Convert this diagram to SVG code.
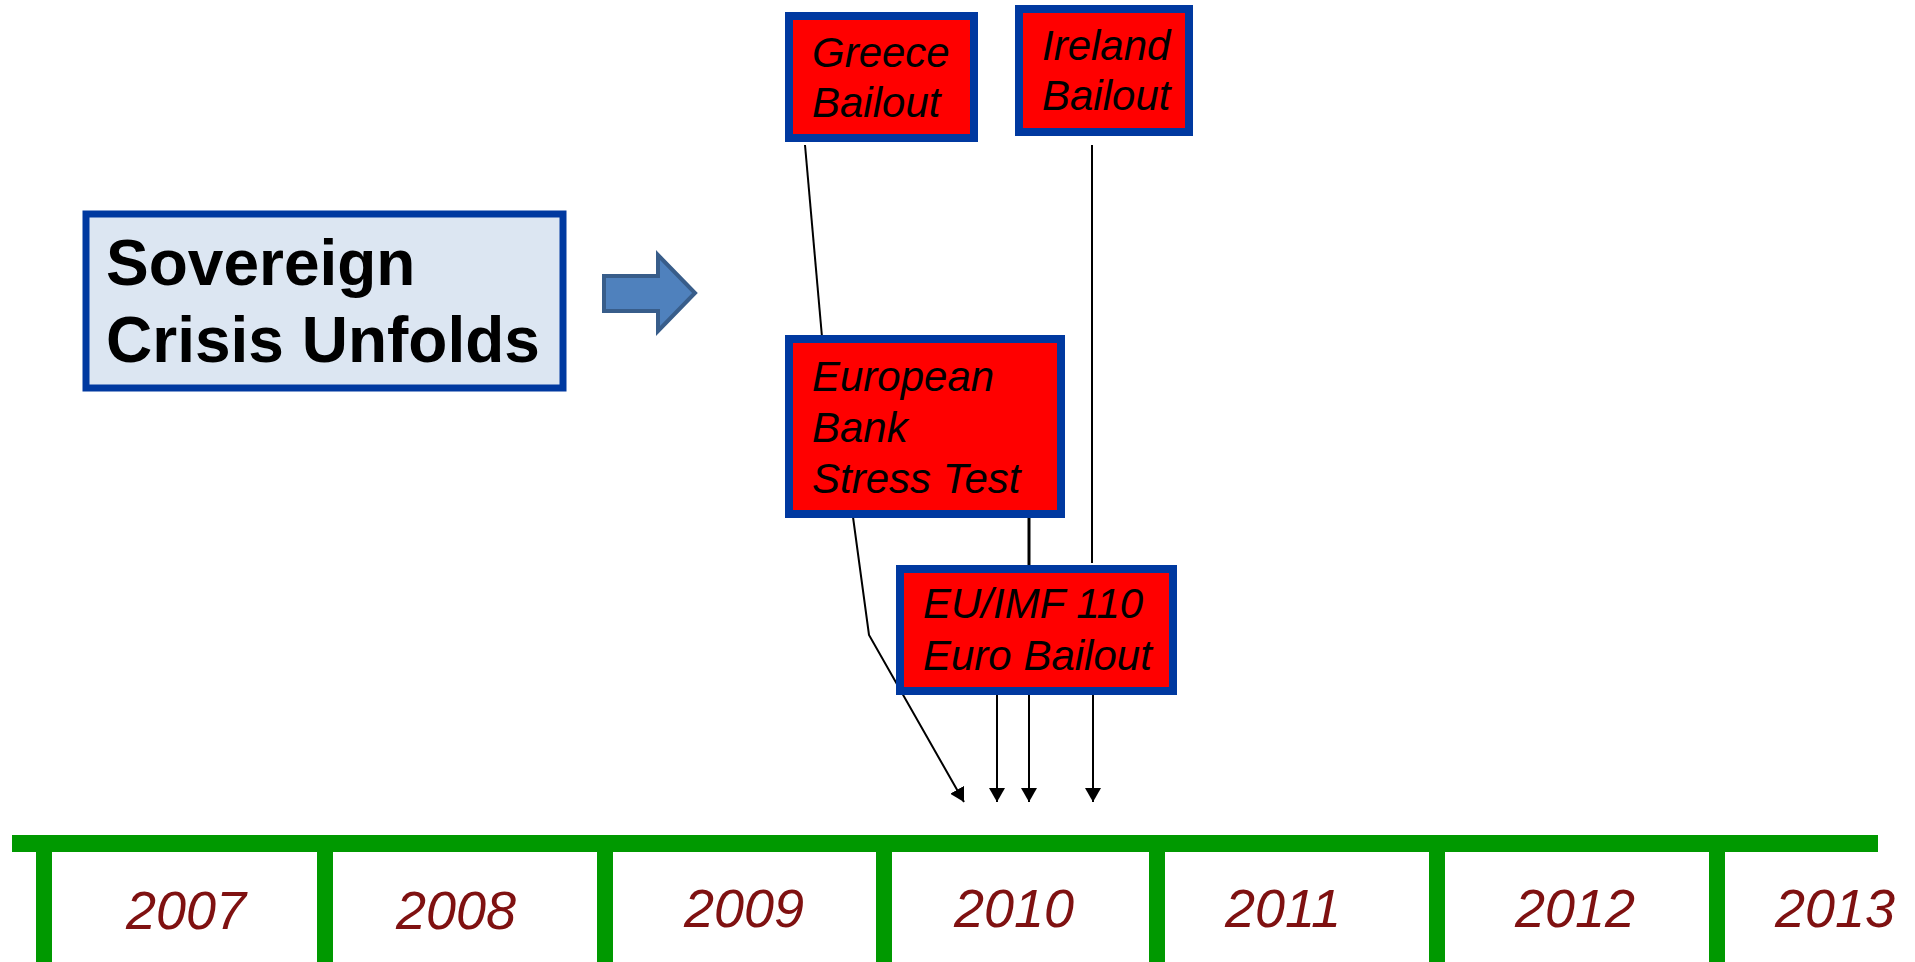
<svg xmlns="http://www.w3.org/2000/svg" width="1915" height="962" viewBox="0 0 1915 962">
<style>
.box{fill:#FF0000;stroke:#0039A0;stroke-width:8}
.lbl{font-family:"Liberation Sans",Arial,sans-serif;font-style:italic;font-size:42px;fill:#000}
.yr{font-family:"Liberation Sans",Arial,sans-serif;font-style:italic;font-size:54px;fill:#7F1111;text-anchor:middle}
.ln{stroke:#000;stroke-width:2;fill:none}
.tick{fill:#009900}
</style>
<defs>
<marker id="ah" viewBox="0 0 14 16" refX="14" refY="8" markerWidth="14" markerHeight="16" markerUnits="userSpaceOnUse" orient="auto">
<path d="M0,0 L14,8 L0,16 Z" fill="#000"/>
</marker>
</defs>
<rect width="1915" height="962" fill="#fff"/>

<g id="timeline">
<rect class="tick" x="12" y="835" width="1866" height="17"/>
<rect class="tick" x="36" y="850" width="16" height="112"/>
<rect class="tick" x="317" y="850" width="16" height="112"/>
<rect class="tick" x="597" y="850" width="16" height="112"/>
<rect class="tick" x="876" y="850" width="16" height="112"/>
<rect class="tick" x="1149" y="850" width="16" height="112"/>
<rect class="tick" x="1429" y="850" width="16" height="112"/>
<rect class="tick" x="1709" y="850" width="16" height="112"/>
<text class="yr" x="186" y="929">2007</text>
<text class="yr" x="456" y="929">2008</text>
<text class="yr" x="744" y="927">2009</text>
<text class="yr" x="1014" y="927">2010</text>
<text class="yr" x="1283" y="927">2011</text>
<text class="yr" x="1575" y="927">2012</text>
<text class="yr" x="1835" y="927">2013</text>
</g>

<g id="connectors">
<path class="ln" d="M805,145 L822,337"/>
<path class="ln" d="M1092,145 L1092,563"/>
<path d="M1029,518 L1029,565" stroke="#000" stroke-width="3" fill="none"/>
<path class="ln" d="M853,517 L869,635 L964,802" marker-end="url(#ah)"/>
<path class="ln" d="M997,693 L997,802" marker-end="url(#ah)"/>
<path class="ln" d="M1029,693 L1029,802" marker-end="url(#ah)"/>
<path class="ln" d="M1093,693 L1093,802" marker-end="url(#ah)"/>
</g>

<g id="sovereign">
<rect x="86" y="214" width="477" height="174" fill="#DCE6F2" stroke="#0039A0" stroke-width="7"/>
<text x="106" y="285" font-family="Liberation Sans, Arial, sans-serif" font-weight="bold" font-size="64">Sovereign</text>
<text x="106" y="362" font-family="Liberation Sans, Arial, sans-serif" font-weight="bold" font-size="64">Crisis Unfolds</text>
</g>

<g id="bigarrow">
<path d="M604,276 L658,276 L658,255 L695,293 L658,331 L658,311 L604,311 Z" fill="#4F81BD" stroke="#385D8A" stroke-width="4" stroke-linejoin="miter"/>
</g>

<g id="greece">
<rect class="box" x="789" y="16" width="185" height="122"/>
<text class="lbl" x="812" y="67">Greece</text>
<text class="lbl" x="812" y="117">Bailout</text>
</g>

<g id="ireland">
<rect class="box" x="1019" y="9" width="170" height="123"/>
<text class="lbl" x="1042" y="60">Ireland</text>
<text class="lbl" x="1042" y="110">Bailout</text>
</g>

<g id="stresstest">
<rect class="box" x="789" y="339" width="272" height="175"/>
<text class="lbl" x="812" y="391">European</text>
<text class="lbl" x="812" y="442">Bank</text>
<text class="lbl" x="812" y="493">Stress Test</text>
</g>

<g id="euimf">
<rect class="box" x="900" y="569" width="273" height="122"/>
<text class="lbl" x="923" y="618">EU/IMF 110</text>
<text class="lbl" x="923" y="670">Euro Bailout</text>
</g>
</svg>
